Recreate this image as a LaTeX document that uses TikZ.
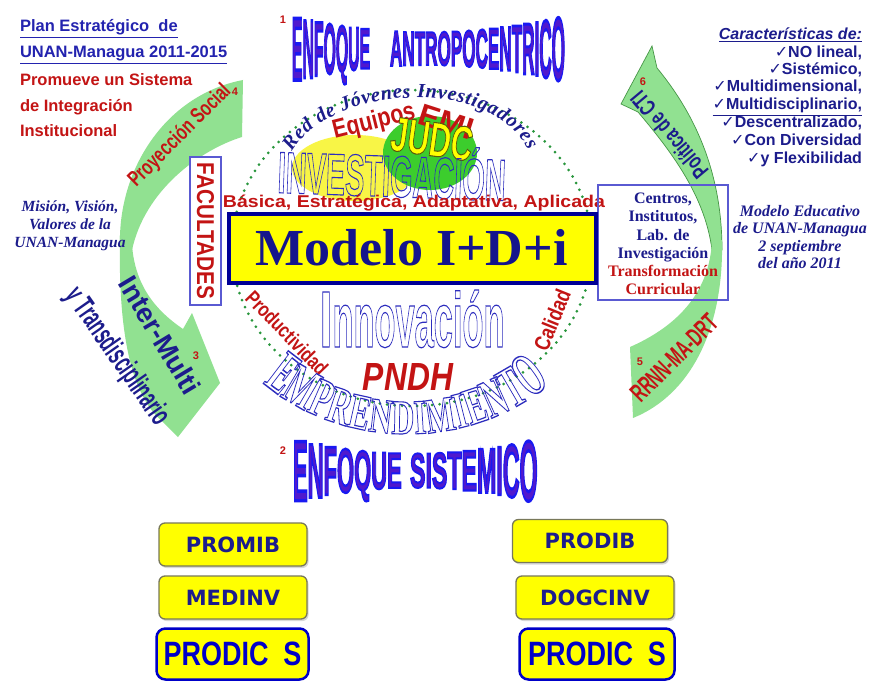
\documentclass[tikz,border=0pt]{standalone}
\usepackage{fontspec}
\usepackage{graphicx}
\setmainfont{Liberation Serif}
\setsansfont{Liberation Sans}
\newfontfamily\djv{DejaVu Sans}
\usetikzlibrary{shadows,decorations.text}

\definecolor{navy}{RGB}{28,28,140}
\definecolor{tblue}{RGB}{35,35,175}
\definecolor{tred}{RGB}{195,20,20}
\definecolor{agreen}{RGB}{145,225,145}
\definecolor{agreenline}{RGB}{70,150,70}
\definecolor{dotgreen}{RGB}{40,150,60}
\definecolor{bnavy}{RGB}{0,0,150}
\definecolor{mtext}{RGB}{20,20,140}
\definecolor{yel}{RGB}{255,255,0}
\definecolor{ell1}{RGB}{248,245,70}
\definecolor{ell2}{RGB}{60,205,45}
\definecolor{wfill}{RGB}{80,25,205}
\definecolor{hblue}{RGB}{45,45,190}
\definecolor{pblue}{RGB}{0,0,200}
\definecolor{fblue}{RGB}{90,90,210}
\definecolor{bgray}{RGB}{120,120,90}

\newcommand\hollow[1]{\special{pdf:literal direct 1 Tr 1.1 w}#1\special{pdf:literal direct 0 Tr}}
\newcommand\twotone[1]{\special{pdf:literal direct 2 Tr 0.8 w 0.1 0.1 0.95 RG}#1\special{pdf:literal direct 0 Tr}}
\newcommand\judcstyle[1]{\special{pdf:literal direct 2 Tr 1.0 w 0.35 0.35 0.05 RG}#1\special{pdf:literal direct 0 Tr}}
\newcommand\wfont{\fontsize{20}{20}\selectfont\sffamily\bfseries}
\newcommand\efont{\fontsize{48}{48}\selectfont\bfseries}
% #1 name prefix, #2 letter/width list, #3 x start, #4 x scale, #5 x centre, #6 half width,
% #7 min height, #8 extra height at ends, #9 y of vertical centre
\newcommand\waveword[9]{%
  \xdef\cx{#3}%
  \foreach \ch/\lw [count=\i from 0] in {#2} {%
    \pgfmathsetmacro\ww{\lw*20*#4}%
    \pgfmathsetmacro\xx{\cx+\ww/2}%
    \pgfmathsetmacro\tq{(\xx-#5)/#6}%
    \pgfmathsetmacro\hh{#7+#8*\tq*\tq}%
    \pgfmathsetmacro\sy{\hh/14.32}%
    \node[wl] (#1\i) at (\xx,{-#9-\hh/2}) {\scalebox{#4}[\sy]{\wfont\twotone{\ch}}};%
    \pgfmathsetmacro\nx{\cx+\ww}%
    \xdef\cx{\nx}%
  }%
}

\begin{document}
\begin{tikzpicture}[x=1pt,y=1pt,
  every node/.style={inner sep=0pt, outer sep=0pt},
  arrowfill/.style={fill=agreen},
  arrowline/.style={fill=agreen, draw=agreenline, line width=0.7pt},
  wl/.style={anchor=base, text=wfill},
  num/.style={text=tred, font=\sffamily\bfseries\fontsize{11}{11}\selectfont},
  tl/.style={anchor=base west, font=\fontsize{16.5}{18}\selectfont\sffamily\bfseries},
  tr/.style={anchor=base east, text=navy, font=\fontsize{16}{18}\selectfont\sffamily\bfseries},
  ybox/.style={fill=yel, draw=bgray, line width=1.3pt, rounded corners=6pt,
    drop shadow={opacity=0.3, shadow xshift=1.5pt, shadow yshift=-2pt},
    minimum height=43pt, text=navy, font=\djv\bfseries\fontsize{21}{21}\selectfont},
  pbox/.style={fill=yel, draw=pblue, line width=2.5pt, rounded corners=9pt,
    minimum height=51pt, text=pblue, font=\sffamily\bfseries\fontsize{27}{27}\selectfont}
]
\useasboundingbox (0,0) rectangle (875,-682);
\fill[white] (0,0) rectangle (875,-682);

% ---------- green curved arrows
\path[arrowfill] (120,-245) .. controls (118,-170) and (165,-95) .. (243,-80)
  -- (242,-137) .. controls (200,-150) and (145,-190) .. (132,-250) -- cycle;
\path[arrowfill] (120,-235) .. controls (118,-330) and (130,-395) .. (163,-422)
  -- (178,-437) -- (220,-383) -- (192,-313) -- (183,-329)
  .. controls (155,-310) and (135,-285) .. (132,-245) -- cycle;
\path[arrowline] (652,-46) -- (657,-68) .. controls (700,-120) and (722,-180) .. (722,-250)
  -- (712,-250) .. controls (705,-195) and (670,-150) .. (638,-112) -- (621,-104) -- cycle;
\path[arrowfill] (712,-240) -- (722,-240) .. controls (724,-330) and (690,-395) .. (633,-418)
  -- (630,-347) .. controls (680,-325) and (710,-290) .. (712,-240) -- cycle;

% ---------- dotted circle and ellipses
\draw[dotgreen, line width=3pt, line cap=round, dash pattern=on 0pt off 7.5pt]
  (412,-248) ellipse [x radius=180, y radius=158];
\fill[ell1] (355,-168) ellipse [x radius=63, y radius=33];
\fill[ell2] (430,-153) ellipse [x radius=47, y radius=37];

% ---------- top-left text
\node[tl, text=tblue] (pl1) at (20,-32) {\underline{Plan Estratégico\ \ de}};
\node[tl, text=tblue] (pl2) at (20,-58) {\underline{UNAN-Managua 2011-2015}};
\node[tl, text=tred] (pl3) at (20,-86) {Promueve un Sistema};
\node[tl, text=tred] (pl4) at (20,-112) {de Integración};
\node[tl, text=tred] (pl5) at (20,-137) {Institucional};

% ---------- top-right list
\node[tr] (cr0) at (862,-40) {\underline{\itshape Características de:}};
\node[tr] (cr1) at (862,-58) {{\djv ✓}NO lineal,};
\node[tr] (cr2) at (862,-75) {{\djv ✓}Sistémico,};
\node[tr] (cr3) at (862,-92) {{\djv ✓}Multidimensional,};
\node[tr] (cr4) at (862,-110) {\underline{{\djv ✓}Multidisciplinario,}};
\node[tr] (cr5) at (862,-128) {{\djv ✓}Descentralizado,};
\node[tr] (cr6) at (862,-146) {{\djv ✓}Con Diversidad};
\node[tr] (cr7) at (862,-164) {{\djv ✓}y Flexibilidad};

% ---------- side italic texts
\node[align=center, text=navy, font=\fontsize{15.5}{18}\selectfont\bfseries\itshape] (mis) at (70,-226)
  {Misión, Visión,\\Valores de la\\UNAN-Managua};
\node[align=center, text=navy, font=\fontsize{16}{17.3}\selectfont\bfseries\itshape] (med) at (800,-237)
  {Modelo Educativo\\de UNAN-Managua\\2 septiembre\\del año 2011};

% ---------- arrow labels
\node[rotate=45, text=tred] (ps) at (180,-136) {\resizebox{135pt}{16pt}{\sffamily\bfseries Proyección Social}};
\node[rotate=-59, text=navy] (im) at (160,-335) {\resizebox{132pt}{20pt}{\sffamily\bfseries Inter-Multi}};
\node[rotate=-55, text=navy] (yt) at (117,-357) {\resizebox{160pt}{22pt}{\sffamily\bfseries y Transdisciplinario}};
\node[rotate=130, text=navy] (pc) at (669,-135) {\resizebox{106pt}{17pt}{\sffamily\bfseries Política de CTI}};
\node[rotate=45, text=tred] (rr) at (674,-358) {\resizebox{112pt}{18pt}{\sffamily\bfseries RRNN-MA-DRT}};
\node[num] (n1) at (283,-20) {1};
\node[num] (n2) at (283,-451) {2};
\node[num] (n4) at (235,-92) {4};
\node[num] (n3) at (196,-356) {3};
\node[num] (n6) at (643,-82) {6};
\node[num] (n5) at (640,-362) {5};

% ---------- titles
\waveword{ta}{E/0.667,N/0.722,F/0.611,O/0.778,Q/0.778,U/0.722,E/0.667}{292}{0.79}{428}{137}{34}{33}{48}
\waveword{tb}{A/0.722,N/0.722,T/0.611,R/0.722,O/0.778,P/0.667,O/0.778,C/0.722,E/0.667,N/0.722,T/0.611,R/0.722,I/0.278,C/0.722,O/0.778}{390}{0.856}{428}{137}{34}{33}{48}
\waveword{sa}{E/0.667,N/0.722,F/0.611,O/0.778,Q/0.778,U/0.722,E/0.667}{293}{1.10}{415}{122}{35}{30}{470}
\waveword{sb}{S/0.667,I/0.278,S/0.667,T/0.611,E/0.667,M/0.833,I/0.278,C/0.722,O/0.778}{410}{1.16}{415}{122}{35}{30}{470}

% ---------- inner circle texts
\path[decorate, decoration={text along path, text color=navy, text align=fit to path,
  text={|\fontsize{20}{20}\selectfont\bfseries\itshape|Red de Jóvenes Investigadores}}]
  (292,-152) .. controls (330,-85) and (490,-75) .. (528,-150);
\node[rotate=14, text=tred] (eq) at (374,-122) {\resizebox{84pt}{19pt}{\sffamily\bfseries Equipos}};
\node[rotate=-18, text=tred] (em) at (446,-122) {\resizebox{56pt}{21pt}{\sffamily\bfseries EMI}};
\node[rotate=-8, text=yel] (ju) at (432,-139) {\resizebox{82pt}{34pt}{\fontsize{46}{46}\selectfont\sffamily\bfseries\judcstyle{JUDC}}};
\node[rotate=-2, text=hblue] (inv) at (392,-171) {\resizebox{228pt}{52pt}{\fontsize{56}{56}\selectfont\sffamily\bfseries\hollow{INVESTIGACIÓN}}};
\node[anchor=base, text=tred] (bas) at (414,-207) {\resizebox{382pt}{12.5pt}{\sffamily\bfseries Básica, Estratégica, Adaptativa, Aplicada}};
\node[anchor=base, text=hblue] (inn) at (412,-347)
  {\resizebox{13pt}{55pt}{\fontsize{70}{70}\selectfont\sffamily\bfseries\hollow{I}}\resizebox{172pt}{57pt}{\fontsize{70}{70}\selectfont\sffamily\bfseries\hollow{nnovación}}};
\node[rotate=-46, text=tred] (pr) at (287,-333) {\resizebox{108pt}{15pt}{\sffamily\bfseries Productividad}};
\node[rotate=68, text=tred] (ca) at (552,-320) {\resizebox{64pt}{16pt}{\sffamily\bfseries Calidad}};
\node[text=tred] (pn) at (408,-376.5) {\resizebox{90pt}{27pt}{\sffamily\bfseries\itshape PNDH}};

% EMPRENDIMIENTO along the lower arc (letter widths of Liberation Serif Bold, in em)
\xdef\ca{226.2}
\foreach \ch/\lw [count=\i from 0] in {E/0.667,M/0.944,P/0.611,R/0.722,E/0.667,N/0.722,D/0.722,I/0.389,M/0.944,I/0.389,E/0.667,N/0.722,T/0.667,O/0.778} {
  \pgfmathsetmacro\da{\lw*48*0.66/200*57.2958}
  \pgfmathsetmacro\ang{\ca+\da/2}
  \pgfmathsetmacro\rot{atan2(184*cos(\ang),-208*sin(\ang))}
  \pgfmathsetmacro\tq{(\ang-270)/42}
  \pgfmathsetmacro\sy{1.02+0.3*\tq*\tq}
  \node[anchor=base, rotate=\rot, text=hblue] (ep\i) at ({407+208*cos(\ang)},{-250+184*sin(\ang)})
    {\scalebox{0.66}[\sy]{\efont\hollow{\ch}}};
  \pgfmathsetmacro\na{\ca+\da}
  \xdef\ca{\na}
}

% ---------- FACULTADES box
\node[draw=fblue, line width=1.2pt, fill=white, minimum width=31pt, minimum height=148pt] (fb) at (205.5,-231) {};
\node[rotate=-90, text=tred] (ft) at (205.5,-231) {\resizebox{136pt}{17pt}{\sffamily\bfseries FACULTADES}};

% ---------- right box
\node[draw=fblue, line width=1.2pt, minimum width=130pt, minimum height=115pt] (rb) at (663,-242.5) {};
\node[align=center, font=\fontsize{16}{18.2}\selectfont\bfseries] (rbt) at (663,-244)
  {\textcolor{navy}{Centros,}\\\textcolor{navy}{Institutos,}\\\textcolor{navy}{Lab. de}\\\textcolor{navy}{Investigación}\\\textcolor{tred}{Transformación}\\\textcolor{tred}{Curricular}};

% ---------- central box
\node[draw=bnavy, line width=4pt, fill=yel, minimum width=367pt, minimum height=69pt] (mb) at (412.5,-248.5) {};
\node[text=mtext, font=\fontsize{52}{52}\selectfont\bfseries] (mt) at (411.5,-247.5) {Modelo I+D+i};

% ---------- bottom boxes
\node[ybox, minimum width=148pt] (bp1) at (233,-544.5) {PROMIB};
\node[ybox, minimum width=148pt] (bp2) at (233,-597.5) {MEDINV};
\node[pbox, minimum width=152pt] (bp3) at (232.5,-654) {\scalebox{1}[1.25]{PRODIC\hspace{0.55em}S}};
\node[ybox, minimum width=155pt] (bq1) at (590,-541) {PRODIB};
\node[ybox, minimum width=158pt] (bq2) at (595,-597.5) {DOGCINV};
\node[pbox, minimum width=155pt] (bq3) at (597,-654) {\scalebox{1}[1.25]{PRODIC\hspace{0.55em}S}};
\end{tikzpicture}
\end{document}
